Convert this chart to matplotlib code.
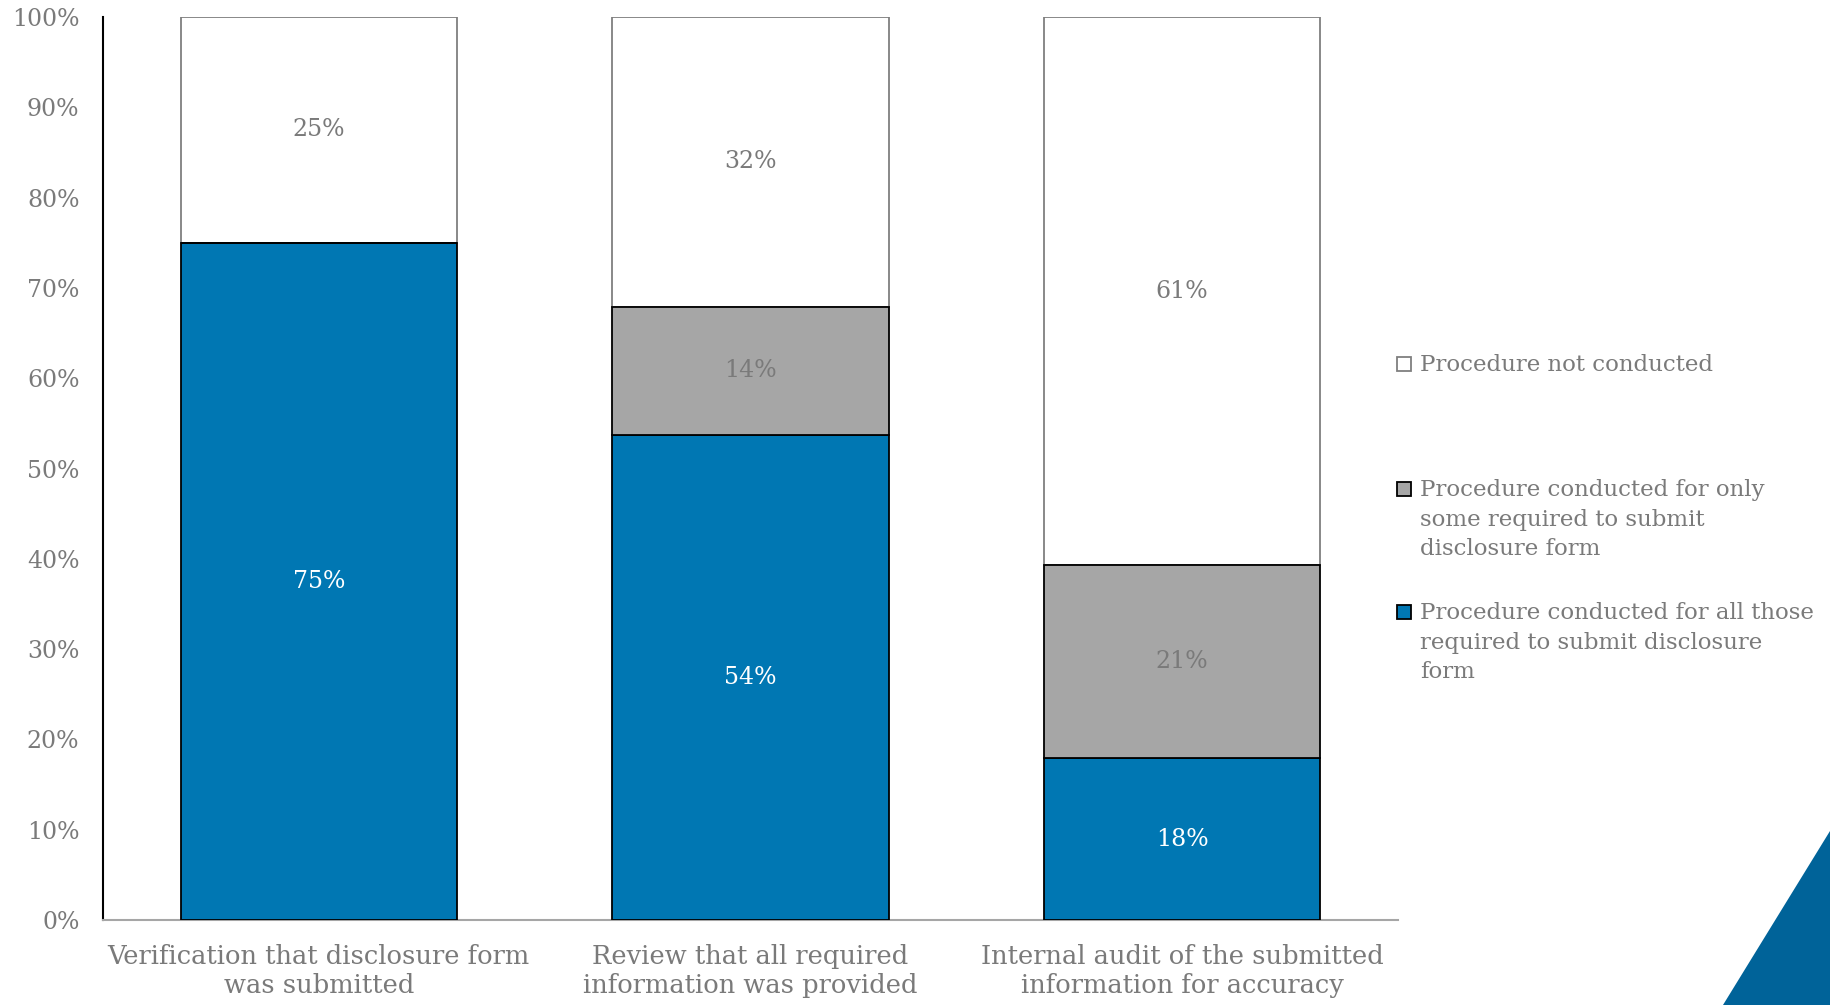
import matplotlib
matplotlib.use("Agg")
import matplotlib.pyplot as plt
from matplotlib.patches import Rectangle, Polygon
import numpy as np

categories = ["Verification that disclosure form\nwas submitted",
              "Review that all required\ninformation was provided",
              "Internal audit of the submitted\ninformation for accuracy"]
all_those = [75.0, 53.7, 17.9]
only_some = [0.0, 14.2, 21.4]
not_conducted = [25.0, 32.1, 60.7]
series_names = ["Procedure not conducted",
                "Procedure conducted for only\nsome required to submit\ndisclosure form",
                "Procedure conducted for all those\nrequired to submit disclosure\nform"]
yticks = [0, 10, 20, 30, 40, 50, 60, 70, 80, 90, 100]

FONT = "DejaVu Serif"
TXT = "#7a7a7a"
BLUE = "#0077B3"
GRAY = "#A6A6A6"

plt.rcParams['font.family'] = [FONT]

W, H = 1830, 1005
fig = plt.figure(figsize=(W / 100, H / 100), dpi=100)
ax = fig.add_axes([103 / W, 1 - 920 / H, (1398 - 103) / W, (920 - 17) / H])

x = np.arange(len(categories))
bw = 0.64
ax.bar(x, all_those, bw, color=BLUE, edgecolor="black", linewidth=1.3, zorder=3)
ax.bar(x, only_some, bw, bottom=all_those, color=GRAY, edgecolor="black", linewidth=1.3, zorder=3)
bottom3 = np.array(all_those) + np.array(only_some)
ax.bar(x, not_conducted, bw, bottom=bottom3, color="white", edgecolor="#7f7f7f", linewidth=1.3, zorder=2)

fs = 17
for i in range(len(x)):
    segs = [(all_those[i], 0, "white"), (only_some[i], all_those[i], TXT), (not_conducted[i], bottom3[i], TXT)]
    for v, b, c in segs:
        if v > 0:
            ax.text(x[i], b + v / 2, f"{round(v):d}%", ha="center", va="center", color=c, fontsize=fs, zorder=5)

ax.set_xlim(-0.5, len(x) - 0.5)
ax.set_ylim(0, 100)
ax.set_yticks(yticks)
ax.set_yticklabels([f"{t}%" for t in yticks])
ax.set_xticks(x)
ax.set_xticklabels(categories)
ax.tick_params(axis="y", length=0, pad=17, labelsize=fs, labelcolor=TXT)
ax.tick_params(axis="x", length=0, pad=17, labelsize=18.5, labelcolor=TXT)
for lbl in ax.get_xticklabels():
    lbl.set_linespacing(1.2)
ax.spines["top"].set_visible(False)
ax.spines["right"].set_visible(False)
ax.spines["left"].set_color("black")
ax.spines["left"].set_linewidth(1.5)
ax.spines["bottom"].set_color("#A6A6A6")
ax.spines["bottom"].set_linewidth(1.5)

# legend (manual, Excel-style)
colors = ["white", GRAY, BLUE]
edges = ["#7f7f7f", "black", "black"]
rows = [364, 489, 612]
for name, c, e, yc in zip(series_names, colors, edges, rows):
    fig.patches.append(Rectangle((1397 / W, 1 - (yc + 7) / H), 14 / W, 14 / H,
                                 transform=fig.transFigure, facecolor=c, edgecolor=e, linewidth=1.3))
    fig.text(1420 / W, 1 - (yc - 10) / H, name, ha="left", va="top", fontsize=16.5,
             color=TXT, linespacing=1.45)

# decorative corner triangle
fig.patches.append(Polygon([(1, 1 - 831 / H), (1, 0), (1723 / W, 0)], closed=True,
                           transform=fig.transFigure, facecolor="#006399", edgecolor="none"))

fig.savefig("out.png", dpi=100)
